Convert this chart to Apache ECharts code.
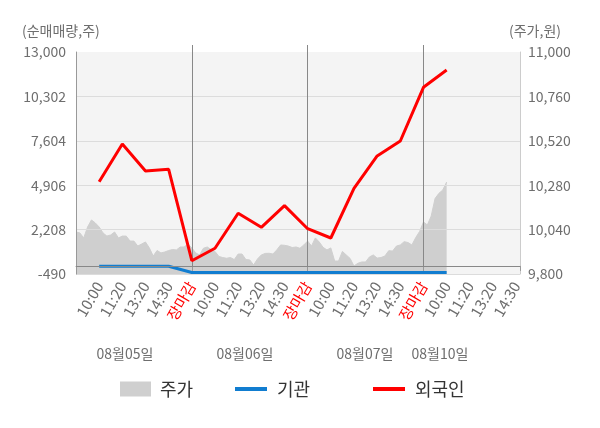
<!DOCTYPE html>
<html>
<head>
<meta charset="utf-8">
<script src="https://cdn.jsdelivr.net/npm/echarts@6/dist/echarts.min.js"></script>
<style>
html, body { margin: 0; padding: 0; background: #fff; }
#main { width: 600px; height: 428px; }
</style>
</head>
<body>
<div id="main"></div>
<script>
// 시간 라벨 (하루 5칸), 날짜 라벨
var slotLabels = ['10:00', '11:20', '13:20', '14:30', '장마감'];
var dayLabels = ['08월05일', '08월06일', '08월07일', '08월10일'];

// 주가 (원) - 그림에서 읽은 값, 한 칸당 6개
var price = [
  10027, 10022, 9995, 10054, 10092, 10076, 10054, 10022, 10005, 10011,
  10027, 9995, 10005, 10005, 9978, 9978, 9951, 9962, 9973, 9941,
  9897, 9927, 9914, 9919, 9927, 9932, 9930, 9946, 9946, 9962,
  9941, 9914, 9903, 9939, 9946, 9932, 9922, 9895, 9889, 9885,
  9889, 9878, 9908, 9908, 9878, 9876, 9849, 9881, 9903, 9911,
  9912, 9908, 9930, 9957, 9955, 9951, 9943, 9946, 9939, 9957,
  9978, 9951, 9995, 9973, 9944, 9930, 9941, 9870, 9870, 9922,
  9903, 9884, 9843, 9858, 9865, 9865, 9892, 9903, 9886, 9889,
  9897, 9926, 9924, 9951, 9957, 9975, 9970, 9957, 9997, 10030,
  10081, 10065, 10113, 10208, 10236, 10254, 10297
];

// 순매매량 (주) - 라벨 위치마다 하나
var foreign = [5119, 7410, 5769, 5872, 318, 1072, 3199, 2348, 3661, 2263, 1698, 4718, 6681, 7592, 10856, 11907];
var institution = [-20, -20, -20, -20, -400, -400, -400, -400, -400, -400, -400, -400, -400, -400, -400, -400];

var FONT = 'Noto Sans CJK KR';
var N = 6;          // 칸당 점 개수
var SLOTS = 19;     // 라벨 칸 수
var times = [];
for (var i = 0; i <= SLOTS * N + 1; i++) {
  var s = i / N;
  times.push(i > 0 && i % N === 0 && s <= SLOTS ? slotLabels[(s - 1) % 5] : '');
}
var last = times.length - 1;

function toPairs(arr) {
  return arr.map(function (v, k) { return [(k + 1) * N, v]; });
}

var chart = echarts.init(document.getElementById('main'));
var option = {
  animation: false,
  textStyle: { fontFamily: FONT },
  grid: { left: 76, right: 80, top: 52, bottom: 154, show: true, backgroundColor: '#f4f4f4', borderWidth: 0 },
  xAxis: [{
    type: 'category',
    data: times,
    boundaryGap: false,
    z: 1.5,
    axisLine: { lineStyle: { color: '#999' } },
    axisTick: {
      length: 5,
      lineStyle: { color: '#999' },
      interval: function (i) { return i % (5 * N) === 0 || i === last; }
    },
    axisLabel: {
      rotate: 60,
      fontSize: 15,
      fontFamily: FONT,
      margin: 9,
      interval: function (i) { return i > 0 && i % N === 0 && i <= SLOTS * N; },
      color: function (value, index) {
        if (value === '장마감') return '#ff0000';
        if (index === 16 * N) return '#333';
        return '#6e6e6e';
      }
    },
    splitLine: {
      show: true,
      lineStyle: { color: '#888' },
      interval: function (i) { return i > 0 && i % (5 * N) === 0 && i < last; }
    }
  }, {
    type: 'category',
    data: times,
    boundaryGap: false,
    position: 'top',
    axisLine: { show: false },
    axisLabel: { show: false },
    axisTick: {
      length: 7,
      lineStyle: { color: '#888' },
      interval: function (i) { return i > 0 && i % (5 * N) === 0 && i < last; }
    }
  }],
  yAxis: [{
    type: 'value',
    position: 'left',
    min: -490,
    max: 13000,
    interval: 2698,
    z: 1.5,
    axisLine: { show: true, lineStyle: { color: '#999' } },
    axisTick: { show: false },
    axisLabel: { color: '#6e6e6e', fontSize: 14, fontFamily: FONT, margin: 10 },
    splitLine: { show: true, showMaxLine: false, lineStyle: { color: '#dcdcdc' } }
  }, {
    type: 'value',
    position: 'right',
    min: 9800,
    max: 11000,
    interval: 240,
    z: 1.5,
    axisLine: { show: true, lineStyle: { color: '#ccc' } },
    axisTick: { show: false },
    axisLabel: { color: '#6e6e6e', fontSize: 14, fontFamily: FONT, margin: 8 },
    splitLine: { show: false }
  }],
  legend: [{
    left: 115, top: 375, itemWidth: 31, itemHeight: 15,
    data: [{ name: '주가', icon: 'rect' }],
    textStyle: { fontSize: 18, color: '#333', fontFamily: FONT, padding: [0, 0, 0, 4] }
  }, {
    left: 230, top: 375, itemWidth: 32, itemHeight: 4,
    data: [{ name: '기관', icon: 'rect' }],
    textStyle: { fontSize: 18, color: '#333', fontFamily: FONT, padding: [0, 0, 0, 5] }
  }, {
    left: 368, top: 375, itemWidth: 32, itemHeight: 4,
    data: [{ name: '외국인', icon: 'rect' }],
    textStyle: { fontSize: 18, color: '#333', fontFamily: FONT, padding: [0, 0, 0, 5] }
  }],
  graphic: [
    { type: 'text', left: 22, top: 24, style: { text: '(순매매량,주)', fill: '#6e6e6e', font: '14px "' + FONT + '"' } },
    { type: 'text', left: 509, top: 24, style: { text: '(주가,원)', fill: '#6e6e6e', font: '14px "' + FONT + '"' } }
  ].concat(dayLabels.map(function (d, k) {
    var cx = [125, 245, 365, 440][k];
    return { type: 'text', x: cx, y: 354, style: { text: d, fill: '#6e6e6e', font: '14px "' + FONT + '"', align: 'center', verticalAlign: 'middle' } };
  })),
  series: [{
    name: '주가',
    type: 'line',
    yAxisIndex: 1,
    data: price,
    symbol: 'none',
    z: 1,
    itemStyle: { color: '#cfcfcf' },
    lineStyle: { width: 1, color: '#cfcfcf' },
    areaStyle: { color: '#cfcfcf', opacity: 1 }
  }, {
    name: '기관',
    type: 'line',
    yAxisIndex: 0,
    data: toPairs(institution),
    symbol: 'none',
    z: 3,
    itemStyle: { color: '#117dd0' },
    lineStyle: { width: 3, color: '#117dd0' },
    markLine: {
      silent: true,
      symbol: ['none', 'none'],
      label: { show: false },
      lineStyle: { color: '#888', type: 'solid', width: 1 },
      data: [{ yAxis: 0 }]
    }
  }, {
    name: '외국인',
    type: 'line',
    yAxisIndex: 0,
    data: toPairs(foreign),
    symbol: 'none',
    z: 4,
    itemStyle: { color: '#ff0000' },
    lineStyle: { width: 3, color: '#ff0000' }
  }]
};
chart.setOption(option);
</script>
</body>
</html>
